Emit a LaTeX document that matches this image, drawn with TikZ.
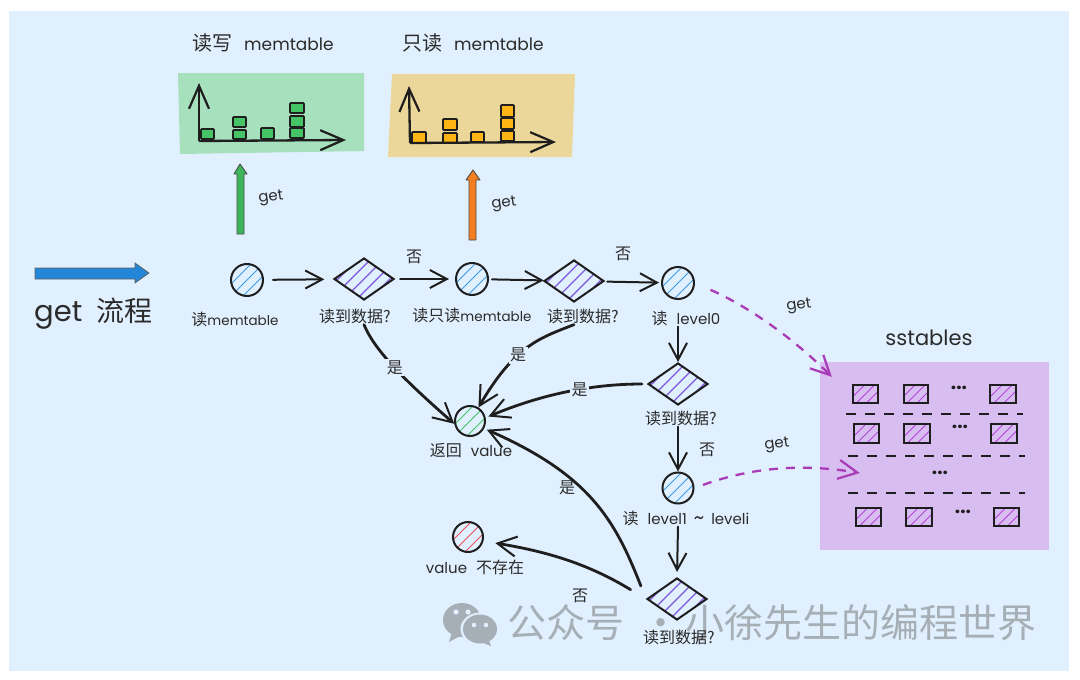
\documentclass[tikz,border=0pt]{standalone}
\usepackage{fontspec}
\usetikzlibrary{arrows.meta,shapes.geometric,calc}
\setmainfont{Lato}
\newfontfamily\cjk{Noto Sans CJK SC}
\newfontfamily\latf{Poppins}
\newcommand\fsz[1]{\fontsize{#1}{#1}\selectfont}
\newcommand\lat[1]{{\latf #1}}
\definecolor{bgc}{HTML}{E1F0FE}
\definecolor{ink}{HTML}{1E1E1E}
\definecolor{txt}{HTML}{2B2B2B}
\definecolor{hblue}{HTML}{3E9BE8}
\definecolor{hviolet}{HTML}{7B57DE}
\definecolor{hgreen}{HTML}{45C466}
\definecolor{hred}{HTML}{E8525A}
\definecolor{hpurple}{HTML}{B445DC}
\definecolor{pdash}{HTML}{A93BB6}
\definecolor{greenbox}{HTML}{A6E0BC}
\definecolor{yellowbox}{HTML}{ECD79B}
\definecolor{ssbox}{HTML}{D8BDF0}
\definecolor{wm}{HTML}{A6AFB6}
\definecolor{amber}{HTML}{FDB515}
\definecolor{garrow}{HTML}{3DB55A}
\definecolor{oarrow}{HTML}{F47F20}
\definecolor{barrow}{HTML}{2486D8}
\tikzset{
  lbl/.style={text=txt,font=\cjk\fsz{16},inner sep=1pt},
  ttl/.style={text=txt,font=\cjk\fsz{20},inner sep=0pt},
  getl/.style={text=txt,font=\latf\fsz{15},inner sep=0pt,rotate=8},
  yn/.style={text=txt,font=\cjk\fsz{16},inner sep=1.5pt},
  ynf/.style={yn,fill=bgc},
  rnd/.style={circle,draw=ink,line width=2pt,inner sep=0pt},
  dia/.style={diamond,draw=ink,line width=2pt,inner sep=0pt,minimum width=60pt,minimum height=42pt},
  flow/.style={draw=ink,line width=2pt,line cap=round,-{Straight Barb[length=17pt,width=18pt,line width=2pt]}},
  thick flow/.style={draw=ink,line width=2.8pt,line cap=round,-{Straight Barb[length=19pt,width=20pt,line width=2pt]}},
  dashflow/.style={draw=pdash,line width=2.3pt,dash pattern=on 9pt off 8pt,-{Straight Barb[length=19pt,width=19pt,line width=2.2pt]}},
  axis/.style={draw=ink,line width=2.3pt,-{Straight Barb[length=23pt,width=20pt,line width=2.2pt]}},
  sep/.style={draw=ink,line width=2.2pt,dash pattern=on 10pt off 9pt},
  dots/.style={text=ink,font=\latf\fsz{19}\bfseries,inner sep=0pt},
}
% circle with hatch: name,x,y,r,colour
\newcommand\hcirc[5]{%
  \begin{scope}\clip (#2,#3) circle[radius=#4];
  \foreach \k in {-2,...,2}{\draw[#5,line width=1pt] ({#2+\k*12-20},{#3+20}) -- ({#2+\k*12+20},{#3-20});}
  \end{scope}
  \node[rnd,minimum size=#4*2pt] (#1) at (#2,#3) {};}
% diamond with hatch: name,x,y
\newcommand\hdia[3]{%
  \begin{scope}\clip (#2-30,#3) -- (#2,#3-21) -- (#2+30,#3) -- (#2,#3+21) -- cycle;
  \foreach \k in {-3,...,3}{\draw[hviolet,line width=1.1pt] ({#2+\k*13-25},{#3+25}) -- ({#2+\k*13+25},{#3-25});}
  \end{scope}
  \node[dia] (#1) at (#2,#3) {};}
% hatched table: x1,y1,x2,y2
\newcommand\tbl[4]{%
  \begin{scope}\clip (#1,#2) rectangle (#3,#4);
  \foreach \k in {-1,0,1}{\draw[hpurple,line width=1pt] ({(#1+#3)/2+\k*10-12},{(#2+#4)/2+12}) -- ({(#1+#3)/2+\k*10+12},{(#2+#4)/2-12});}
  \end{scope}
  \draw[ink,line width=1.7pt] (#1,#2) rectangle (#3,#4);}
% bar cell: x1,y1,x2,y2,fill
\newcommand\cell[5]{\draw[ink,line width=1.8pt,fill=#5,rounded corners=0.8pt] (#1,#2) rectangle (#3,#4);}
\begin{document}
\begin{tikzpicture}[x=1pt,y=-1pt]
\useasboundingbox (0,0) rectangle (1080,680);
\fill[white] (0,0) rectangle (1080,680);
\fill[bgc] (9,11) rectangle (1069,671);

% titles
\node[ttl,anchor=west] (t_rw) at (192,43) {读写\hspace{12pt}\lat{\fsz{17}memtable}};
\node[ttl,anchor=west] (t_ro) at (402,43) {只读\hspace{12pt}\lat{\fsz{17}memtable}};

% top boxes
\fill[greenbox] (178,73) -- (364,73) -- (364,151) -- (180,154) -- cycle;
\fill[yellowbox] (392,74) -- (575,74) -- (572,157) -- (388,157) -- cycle;

% green chart
\foreach \a/\b/\c/\d in {201/129/214/139,233/117/246/127,233/130/246/139,261/128/274/139,290/103/304/113,290/116/304/127,290/128/304/138}{\cell{\a}{\b}{\c}{\d}{hgreen}}
\coordinate (go) at (199,141);
\coordinate (gy) at (199,83);
\coordinate (gx) at (346,140);
\draw[axis] (go) -- (gy);
\draw[axis] (go) -- (gx);
% yellow chart
\foreach \a/\b/\c/\d in {412/132/426/143,443/119/457/130,443/133/457/143,471/132/484/142,501/105/514/117,501/118/514/129,501/131/514/141}{\cell{\a}{\b}{\c}{\d}{amber}}
\coordinate (yo) at (410,143);
\coordinate (yy) at (409,86);
\coordinate (yx) at (556,142);
\draw[axis] (yo) -- (yy);
\draw[axis] (yo) -- (yx);

% block arrows
\draw[ink!80,line width=.9pt,fill=garrow,line join=round] (237,234) -- (237,174) -- (234,174) -- (240,164) -- (247,174) -- (244,174) -- (244,234) -- cycle;
\draw[ink!80,line width=.9pt,fill=oarrow,line join=round] (469,240) -- (469,180) -- (466,180) -- (473,170) -- (480,180) -- (476,180) -- (476,240) -- cycle;
\draw[ink!70,line width=.7pt,fill=barrow] (35,268) -- (135,268) -- (135,263) -- (149,273) -- (135,283) -- (135,279) -- (35,279) -- cycle;
\node[getl] (g1) at (271,198) {get};
\node[getl] (g2) at (504,204) {get};
\node[anchor=west,text=txt,inner sep=0pt] (title) at (34,314) {\latf\fsz{29}get\hspace{14pt}\cjk\fsz{28}流程};

% sstables
\node[text=txt,font=\latf\fsz{21},inner sep=0pt] (sst) at (929,338) {sstables};
\node[fill=ssbox,minimum width=229pt,minimum height=188pt,inner sep=0pt] (ss) at (934.5,456) {};
\tbl{853}{385}{878}{403}\tbl{904}{385}{928}{403}\tbl{990}{385}{1016}{403}
\tbl{854}{424}{879}{443}\tbl{904}{424}{930}{443}\tbl{991}{424}{1017}{443}
\tbl{856}{508}{881}{526}\tbl{906}{508}{932}{526}\tbl{994}{508}{1019}{526}
\node[dots] (d_a) at (959,388) {...};
\node[dots] (d_b) at (960,427) {...};
\node[dots] (d_c) at (940,473) {...};
\node[dots] (d_d) at (963,512) {...};
\coordinate (s1a) at (846,414); \coordinate (s1b) at (1023,414);
\coordinate (s2a) at (848,456); \coordinate (s2b) at (1025,456);
\coordinate (s3a) at (848,493); \coordinate (s3b) at (1025,493);
\draw[sep] (s1a) -- (s1b);
\draw[sep] (s2a) -- (s2b);
\draw[sep] (s3a) -- (s3b);

% watermark
\fill[wm] (462,620) ellipse[x radius=19,y radius=17];
\fill[wm] (452,632) -- (449,642) -- (462,635) -- cycle;
\fill[bgc] (480,629) ellipse[x radius=19.5,y radius=16.5];
\fill[wm] (480,629) ellipse[x radius=17,y radius=14.5];
\fill[wm] (488,638) -- (491,646) -- (481,642) -- cycle;
\fill[bgc] (456,612) circle[radius=2.6] (468,612) circle[radius=2.6] (474,625) circle[radius=2.3] (486,625) circle[radius=2.3];
\node[anchor=east,text=wm,inner sep=0pt] (wmk) at (1037,623) {\cjk\fsz{39}公众号\hspace{17pt}·\hspace{5pt}小徐先生的编程世界};

% flow nodes
\hcirc{c1}{247}{280}{16}{hblue}
\hdia{d1}{364}{279}
\hcirc{c2}{472}{279}{16}{hblue}
\hdia{d2}{574}{281}
\hcirc{c3}{678}{283}{16}{hblue}
\hdia{d3}{678}{384}
\hcirc{c5}{470}{421}{15}{hgreen}
\hcirc{c4}{678}{488}{15.5}{hblue}
\hcirc{c6}{468}{537}{15}{hred}
\hdia{d4}{677}{599}

% node captions
\node[lbl] (t1) at (235,319) {读\lat{\fsz{13.5}memtable}};
\node[lbl] (t2) at (355,316) {读到数据?};
\node[lbl] (t3) at (472,315) {读只读\lat{\fsz{13.5}memtable}};
\node[lbl] (t4) at (583,316) {读到数据?};
\node[lbl] (t5) at (686,318) {读\hspace{9pt}\lat{\fsz{15}level0}};
\node[lbl] (t6) at (681,418) {读到数据?};
\node[lbl] (t7) at (686,518) {读\hspace{9pt}\lat{\fsz{15}level1\hspace{7pt}{\fsz{20}\textasciitilde{}}\hspace{7pt}leveli}};
\node[lbl] (t8) at (471,451) {返回\hspace{9pt}\lat{\fsz{15}value}};
\node[lbl] (t9) at (475,567) {\lat{\fsz{15}value}\hspace{9pt}不存在};
\node[lbl] (t10) at (679,637) {读到数据?};

% straight connectors
\draw[flow,shorten <=9pt,shorten >=9pt] (c1) -- (d1);
\draw[flow,shorten <=5pt,shorten >=6pt] (d1) -- (c2);
\draw[flow,shorten <=3pt,shorten >=0pt] (c2) -- (d2);
\draw[flow,shorten <=3pt,shorten >=2pt] (d2) -- (c3);
\draw[flow] (t5.south -| d3) -- (d3.north);
\draw[flow] (t6.south -| c4) -- (c4.north);
\draw[flow,shorten >=5pt] (t7.south -| c4) -- (d4.north);

% curved connectors
\draw[thick flow] ([xshift=9pt]t2.south) .. controls (375,352) and (410,385) .. (c5.190) node[pos=.48,ynf] (y1) {是};
\draw[thick flow] ([xshift=-9pt]t4.south) .. controls (540,338) and (515,345) .. (c5.58) node[pos=.6,ynf] (y2) {是};
\draw[thick flow,shorten <=5pt,shorten >=3pt] (d3.west) .. controls (590,384) and (540,395) .. (c5.12) node[pos=.41,ynf] (y3) {是};
\draw[thick flow,shorten <=14pt,shorten >=3pt] (d4.west) .. controls (615,520) and (590,475) .. (c5.-28);
\draw[thick flow,shorten <=18pt,shorten >=12pt] (d4.west) .. controls (590,565) and (550,552) .. (c6.-15);

\node[yn] (n1) at (414,257) {否};
\node[yn] (n2) at (623,254) {否};
\node[yn] (n3) at (707,450) {否};
\node[yn] (n4) at (580,596) {否};
\node[yn] (y4) at (567,488) {是};

% dashed get arrows
\draw[dashflow,shorten <=17pt] (c3.east) .. controls (745,305) and (790,335) .. ([xshift=12pt,yshift=-15pt]ss.north west);
\draw[dashflow,shorten <=9pt] (c4.east) .. controls (750,468) and (800,463) .. ([xshift=40pt,yshift=-17pt]ss.west);
\node[getl] (g3) at (799,306) {get};
\node[getl] (g4) at (777,445) {get};
\end{tikzpicture}
\end{document}
